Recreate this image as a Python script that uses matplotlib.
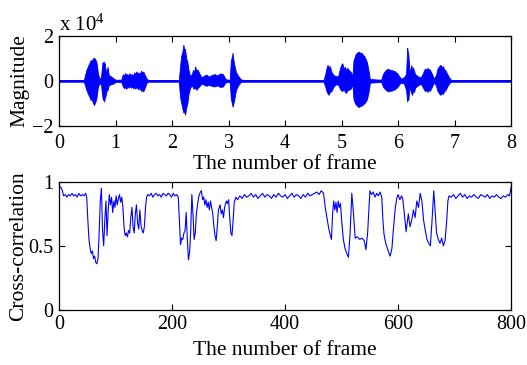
import numpy as np
import matplotlib.pyplot as plt

plt.rcParams['font.family'] = 'Liberation Serif'
plt.rcParams['mathtext.default'] = 'regular'

# --- speech waveform envelope (x in units of 10^4, amplitude in 10^4) ---
wave_x = [0.00, 0.44, 0.46, 0.48, 0.50, 0.52, 0.54, 0.56, 0.58, 0.60, 0.62, 0.64, 0.66,
          0.67, 0.69, 0.71, 0.74, 0.76, 0.77, 0.78, 0.79, 0.80, 0.81, 0.82, 0.84, 0.86,
          0.88, 0.92, 0.96, 1.00, 1.10, 1.13, 1.15, 1.17, 1.19, 1.21, 1.23, 1.25, 1.27,
          1.29, 1.31, 1.33, 1.35, 1.37, 1.39, 1.41, 1.43, 1.45, 1.47, 1.49, 1.51, 1.55,
          1.58, 2.12, 2.14, 2.16, 2.18, 2.20, 2.21, 2.23, 2.25, 2.27, 2.29, 2.32, 2.35,
          2.37, 2.39, 2.41, 2.43, 2.45, 2.48, 2.52, 2.55, 2.60, 2.65, 2.70, 2.75, 2.80,
          2.85, 2.90, 2.94, 2.98, 3.02, 3.04, 3.06, 3.07, 3.09, 3.11, 3.13, 3.15, 3.17,
          3.21, 3.25, 4.68, 4.71, 4.73, 4.75, 4.77, 4.79, 4.82, 4.86, 4.90, 4.94, 4.97,
          4.99, 5.01, 5.04, 5.06, 5.08, 5.10, 5.12, 5.16, 5.19, 5.21, 5.23, 5.25, 5.28,
          5.30, 5.33, 5.35, 5.38, 5.40, 5.43, 5.45, 5.48, 5.50, 5.70, 5.73, 5.76, 5.78,
          5.81, 5.83, 5.86, 5.88, 5.91, 5.93, 5.96, 5.98, 6.02, 6.05, 6.10, 6.14, 6.16,
          6.17, 6.18, 6.20, 6.22, 6.23, 6.25, 6.26, 6.28, 6.30, 6.35, 6.40, 6.44, 6.46,
          6.48, 6.50, 6.52, 6.54, 6.56, 6.58, 6.60, 6.63, 6.67, 6.69, 6.71, 6.73, 6.75,
          6.77, 6.79, 6.82, 6.84, 6.86, 6.88, 6.92, 6.95, 8.00]
wave_top = [0.04, 0.04, 0.25, 0.45, 0.58, 0.70, 0.80, 0.92, 0.88, 1.00, 1.02, 0.96, 0.85,
            0.70, 0.30, 0.15, 0.10, 0.60, 0.82, 0.72, 0.86, 0.70, 0.78, 0.55, 0.40, 0.62,
            0.25, 0.20, 0.12, 0.05, 0.05, 0.30, 0.22, 0.35, 0.26, 0.30, 0.24, 0.34, 0.26,
            0.30, 0.22, 0.38, 0.30, 0.42, 0.34, 0.36, 0.30, 0.45, 0.36, 0.42, 0.30, 0.10,
            0.04, 0.04, 0.60, 1.10, 1.25, 1.60, 1.45, 1.40, 1.00, 0.85, 0.50, 0.20, 0.30,
            0.48, 0.40, 0.64, 0.45, 0.50, 0.35, 0.15, 0.20, 0.28, 0.20, 0.25, 0.30, 0.24,
            0.33, 0.30, 0.10, 0.05, 0.05, 0.90, 1.10, 1.24, 0.85, 0.60, 0.40, 0.30, 0.22,
            0.08, 0.04, 0.04, 0.30, 0.55, 0.71, 0.60, 0.66, 0.40, 0.25, 0.20, 0.22, 0.55,
            0.70, 0.78, 0.55, 0.62, 0.45, 0.58, 0.50, 0.40, 0.20, 0.90, 1.05, 1.20, 1.26,
            1.30, 1.24, 1.25, 1.15, 1.10, 0.95, 0.80, 0.40, 0.08, 0.05, 0.30, 0.42, 0.48,
            0.52, 0.53, 0.46, 0.50, 0.44, 0.45, 0.38, 0.35, 0.20, 0.10, 0.15, 0.30, 1.47,
            1.30, 1.20, 0.40, 0.55, 0.70, 0.50, 0.60, 0.45, 0.30, 0.20, 0.15, 0.35, 0.48,
            0.55, 0.50, 0.57, 0.52, 0.50, 0.40, 0.30, 0.10, 0.25, 0.50, 0.60, 0.66, 0.71,
            0.62, 0.65, 0.50, 0.45, 0.35, 0.25, 0.08, 0.04, 0.04]
wave_bot = [-0.04, -0.04, -0.20, -0.38, -0.50, -0.62, -0.72, -0.85, -0.80, -0.98, -1.07, -0.95, -0.80,
            -0.60, -0.25, -0.15, -0.10, -0.55, -0.75, -0.85, -0.70, -0.92, -0.75, -0.70, -0.45, -0.40,
            -0.20, -0.15, -0.12, -0.05, -0.05, -0.25, -0.32, -0.28, -0.35, -0.26, -0.30, -0.22, -0.30,
            -0.25, -0.33, -0.28, -0.35, -0.26, -0.34, -0.38, -0.30, -0.45, -0.40, -0.47, -0.35, -0.08,
            -0.04, -0.04, -0.70, -0.95, -1.20, -1.40, -1.30, -1.50, -1.20, -1.00, -0.60, -0.30, -0.20,
            -0.30, -0.35, -0.28, -0.40, -0.32, -0.25, -0.12, -0.15, -0.22, -0.18, -0.22, -0.25, -0.20,
            -0.27, -0.25, -0.08, -0.05, -0.05, -0.80, -1.00, -1.15, -0.95, -0.70, -0.40, -0.30, -0.20,
            -0.06, -0.04, -0.04, -0.25, -0.45, -0.55, -0.62, -0.50, -0.45, -0.25, -0.15, -0.18, -0.35,
            -0.42, -0.45, -0.38, -0.50, -0.53, -0.42, -0.40, -0.35, -0.15, -0.80, -0.95, -1.05, -1.12,
            -1.16, -1.12, -1.10, -1.05, -1.00, -0.90, -0.80, -0.45, -0.08, -0.05, -0.25, -0.35, -0.40,
            -0.45, -0.47, -0.42, -0.45, -0.38, -0.40, -0.32, -0.30, -0.15, -0.08, -0.10, -0.40, -0.92,
            -0.70, -0.85, -0.30, -0.45, -0.55, -0.62, -0.40, -0.50, -0.30, -0.20, -0.12, -0.30, -0.40,
            -0.45, -0.42, -0.49, -0.40, -0.45, -0.35, -0.25, -0.08, -0.20, -0.42, -0.50, -0.58, -0.62,
            -0.55, -0.58, -0.45, -0.40, -0.30, -0.20, -0.06, -0.04, -0.04]

# --- cross-correlation per frame ---
corr_frame = [0, 3, 6, 8, 11, 14, 17, 20, 23, 26, 29, 32, 35, 38, 41, 44, 47, 49,
              51, 53, 55, 57, 59, 61, 63, 65, 67, 69, 71, 73, 75, 77, 79, 81, 83, 85, 87, 89,
              91, 93, 95, 97, 99, 101, 103, 105, 107, 109, 111, 113, 115, 117, 119, 121, 123,
              125, 127, 129, 131, 133, 135, 137, 139, 141, 143, 145, 147, 149, 151, 153, 155, 157,
              160, 163, 166, 169, 172, 175, 178, 181, 184, 187, 190, 193, 196, 199, 202, 205, 208, 211,
              213, 215, 217, 219, 221, 223, 225, 227, 229, 231, 233, 235, 237, 239, 241, 243, 245,
              247, 250, 252, 254, 256, 258, 260, 262, 264, 266, 268, 270, 272, 274, 276, 278, 280,
              282, 285, 287, 289, 291, 293, 296, 298, 300, 302, 304, 306, 308, 310, 313, 316,
              320, 324, 328, 332, 336, 340, 344, 348, 352, 356, 360, 364, 368, 372, 376, 380,
              384, 388, 392, 396, 400, 404, 408, 412, 416, 420, 424, 428, 432, 436, 440, 444,
              448, 452, 456, 460, 464, 468,
              471, 474, 477, 480, 482, 484, 486, 488, 490, 492, 494, 496, 498, 500, 503, 506, 509,
              512, 515, 518, 521, 524, 528, 532, 536, 540, 543, 546, 550, 553, 556, 559, 562, 565,
              568, 571, 573, 575, 578, 581, 584, 586, 589, 592, 595, 598, 600, 603, 606, 608, 611,
              614, 616, 618, 621, 624, 627, 630, 633, 636, 639, 642, 645, 648, 651, 654, 657, 660,
              663, 665, 668, 671, 674, 677, 680, 683, 686, 688, 690,
              694, 698, 702, 706, 710, 714, 718, 722, 726, 730, 734, 738, 742, 746, 750, 754,
              758, 762, 766, 770, 774, 778, 782, 786, 790, 794, 797, 800]
corr_val = [0.95, 0.96, 0.93, 0.89, 0.90, 0.88, 0.90, 0.89, 0.91, 0.89, 0.90, 0.88, 0.91, 0.89, 0.90, 0.89, 0.91, 0.88,
            0.70, 0.55, 0.48, 0.44, 0.46, 0.40, 0.42, 0.37, 0.36, 0.40, 0.60, 0.85, 0.95, 0.62, 0.50, 0.70, 0.85, 0.58, 0.78, 0.90,
            0.82, 0.88, 0.76, 0.85, 0.80, 0.89, 0.82, 0.87, 0.90, 0.84, 0.88, 0.80, 0.65, 0.58, 0.60, 0.57, 0.62,
            0.60, 0.72, 0.80, 0.65, 0.60, 0.75, 0.82, 0.68, 0.63, 0.78, 0.66, 0.62, 0.60, 0.65, 0.80, 0.88, 0.90,
            0.89, 0.91, 0.88, 0.90, 0.91, 0.89, 0.90, 0.88, 0.91, 0.90, 0.89, 0.91, 0.90, 0.88, 0.91, 0.89, 0.90, 0.88,
            0.70, 0.51, 0.56, 0.55, 0.60, 0.62, 0.76, 0.55, 0.39, 0.45, 0.62, 0.90, 0.75, 0.55, 0.60, 0.75, 0.82,
            0.88, 0.92, 0.93, 0.86, 0.88, 0.82, 0.86, 0.80, 0.84, 0.78, 0.85, 0.80, 0.75, 0.65, 0.58, 0.54, 0.65,
            0.78, 0.82, 0.75, 0.78, 0.72, 0.80, 0.85, 0.83, 0.86, 0.72, 0.60, 0.58, 0.70, 0.84, 0.88, 0.86,
            0.89, 0.87, 0.90, 0.88, 0.89, 0.91, 0.88, 0.90, 0.87, 0.89, 0.91, 0.88, 0.90, 0.89, 0.87, 0.90,
            0.88, 0.91, 0.89, 0.88, 0.90, 0.87, 0.89, 0.91, 0.88, 0.90, 0.89, 0.87, 0.90, 0.88, 0.91, 0.89,
            0.90, 0.91, 0.92, 0.90, 0.93, 0.91,
            0.80, 0.72, 0.64, 0.58, 0.55, 0.75, 0.85, 0.78, 0.84, 0.76, 0.85, 0.80, 0.83, 0.70, 0.55, 0.48, 0.44,
            0.41, 0.60, 0.91, 0.75, 0.56, 0.57, 0.55, 0.56, 0.54, 0.47, 0.60, 0.93, 0.90, 0.92, 0.88, 0.91, 0.89,
            0.92, 0.88, 0.70, 0.59, 0.52, 0.48, 0.44, 0.42, 0.48, 0.65, 0.80, 0.88, 0.90, 0.86, 0.89, 0.87, 0.75,
            0.61, 0.68, 0.75, 0.65, 0.70, 0.78, 0.72, 0.85, 0.80, 0.91, 0.85, 0.70, 0.62, 0.55, 0.52, 0.50, 0.70,
            0.93, 0.80, 0.60, 0.55, 0.52, 0.56, 0.50, 0.54, 0.70, 0.85, 0.89,
            0.88, 0.90, 0.87, 0.89, 0.91, 0.88, 0.90, 0.87, 0.89, 0.88, 0.90, 0.88, 0.87, 0.90, 0.89, 0.88,
            0.90, 0.87, 0.89, 0.88, 0.90, 0.88, 0.87, 0.89, 0.88, 0.90, 0.89, 0.96]

fig = plt.figure(figsize=(5.27, 3.65), dpi=100)
ax1 = fig.add_axes([0.112, 0.655, 0.858, 0.247])
ax2 = fig.add_axes([0.112, 0.151, 0.858, 0.351])

# top: waveform
ax1.fill_between(wave_x, wave_bot, wave_top, color='#0000ff', lw=0.6, edgecolor='#0000ff')
ax1.plot([0, 8], [0, 0], color='#0000ff', lw=1.2)
ax1.set_xlim(0, 8)
ax1.set_ylim(-2, 2)
ax1.set_xticks(range(0, 9))
ax1.set_yticks([-2, 0, 2])
ax1.set_xlabel('The number of frame', fontsize=15.5, labelpad=1)
ax1.set_ylabel('Magnitude', fontsize=15.5, labelpad=2)
ax1.text(0.0, 1.0, 'x 10$^{4}$', transform=ax1.transAxes, fontsize=15, va='bottom', ha='left')

# bottom: cross-correlation
ax2.plot(corr_frame, corr_val, color='#0000ff', lw=0.8)
ax2.set_xlim(0, 800)
ax2.set_ylim(0, 1)
ax2.set_xticks([0, 200, 400, 600, 800])
ax2.set_yticks([0, 0.5, 1])
ax2.set_yticklabels(['0', '0.5', '1'])
ax2.set_xlabel('The number of frame', fontsize=15.5, labelpad=5)
ax2.set_ylabel('Cross-correlation', fontsize=15.5, labelpad=0)

for ax in (ax1, ax2):
    ax.tick_params(direction='in', top=True, right=True, length=4, width=0.8,
                   labelsize=14.5)
    ax.tick_params(axis='y', pad=4)
    for s in ax.spines.values():
        s.set_linewidth(0.9)
ax1.tick_params(axis='x', pad=6)
ax2.tick_params(axis='x', pad=4)

plt.savefig('out.png', dpi=100)
